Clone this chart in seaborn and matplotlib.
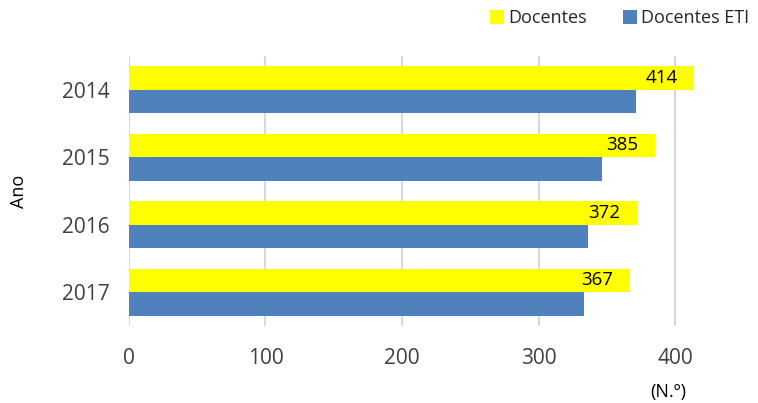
import pandas as pd
import seaborn as sns
import matplotlib.pyplot as plt

# values
anos = ['2014', '2015', '2016', '2017']
docentes = [414, 385, 372, 367]
docentes_eti = [371, 346, 336, 333]
series = ['Docentes', 'Docentes ETI']

df = pd.DataFrame({
    'Ano': anos * 2,
    'Valor': docentes + docentes_eti,
    'Serie': [series[0]] * len(anos) + [series[1]] * len(anos),
})

sns.set_style('white')
plt.rcParams['font.family'] = ['Open Sans', 'DejaVu Sans']

fig = plt.figure(figsize=(7.58, 4.03), dpi=100)
ax = fig.add_axes([0.170, 0.191, 0.811, 0.670])

sns.barplot(data=df, x='Valor', y='Ano', hue='Serie', order=anos, hue_order=series,
            palette=['#FFFF00', '#4F81BD'], width=0.7, orient='y', ax=ax,
            saturation=1, errorbar=None, linewidth=0)

ax.set_xlim(0, 450)
ax.set_xticks([0, 100, 200, 300, 400])
ax.grid(axis='x', color='#d9d9d9', linewidth=1.5)
ax.set_axisbelow(True)
for s in ax.spines.values():
    s.set_visible(False)
ax.tick_params(axis='both', length=0, labelsize=15, colors='#404040')
ax.tick_params(axis='x', pad=16)
ax.tick_params(axis='y', pad=14)
ax.set_xlabel('')
ax.set_ylabel('Ano', fontsize=13, color='black', labelpad=24)

# value labels on the Docentes bars
for bar, v in zip(ax.containers[0], docentes):
    ax.annotate(str(v), (bar.get_width(), bar.get_y() + bar.get_height() / 2),
                xytext=(-12, 0), textcoords='offset points',
                ha='right', va='center', fontsize=13.5, color='black')

fig.text(0.882, 0.005, '(N.º)', fontsize=13, color='black', ha='center', va='bottom')

handles, labels = ax.get_legend_handles_labels()
ax.legend_.remove()
fig.legend(handles, labels, loc='upper right', bbox_to_anchor=(1.0, 1.0), ncol=2,
           frameon=False, fontsize=13, handlelength=0.8, handleheight=0.8,
           handletextpad=0.2, columnspacing=2.0, borderaxespad=0.1)

plt.savefig('out.png', dpi=100)
